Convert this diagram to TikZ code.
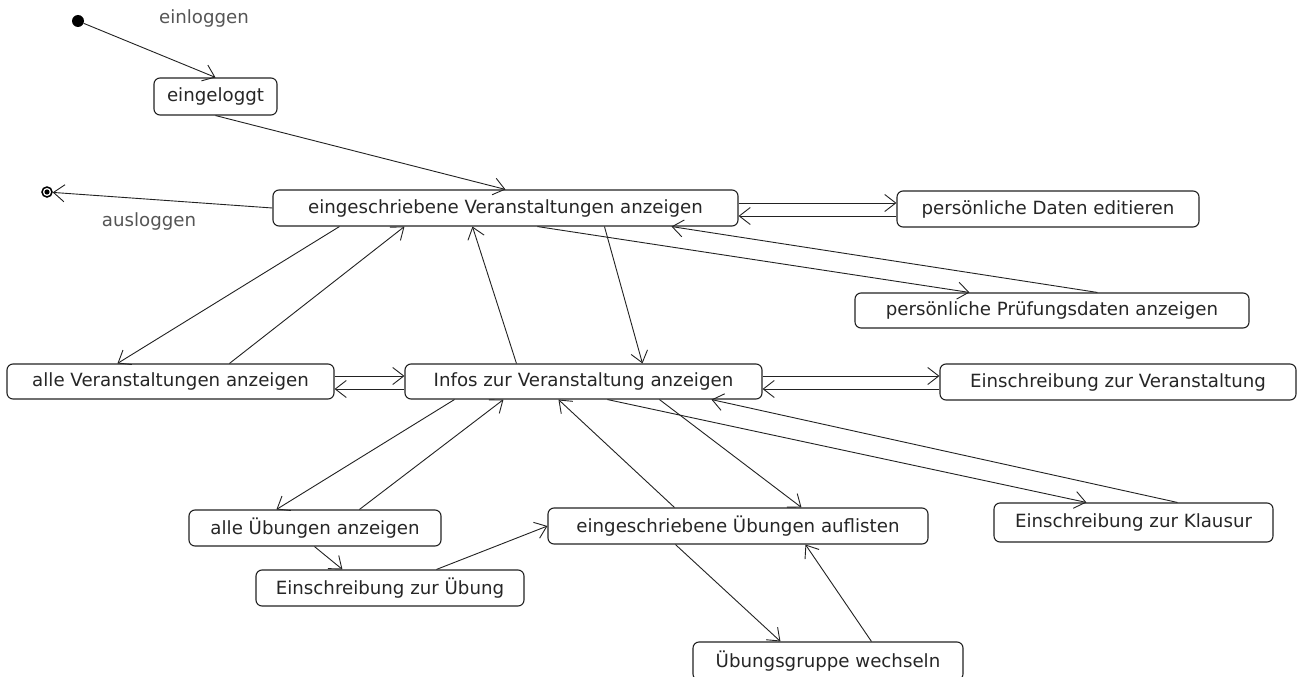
\documentclass[tikz,border=0pt]{standalone}
\usepackage{fontspec}
\setmainfont{DejaVu Sans}
\usetikzlibrary{arrows.meta}
\definecolor{edge}{HTML}{222222}
\definecolor{lbl}{HTML}{555555}
\tikzset{
  state/.style={draw=edge, line width=1.1pt, rounded corners=6pt, fill=white,
    inner sep=0pt, font=\fontsize{18.2}{21}\selectfont, text=black!85},
  flow/.style={draw=edge, line width=0.9pt,
    -{Straight Barb[length=11pt,width=17pt,line width=0.9pt]}},
  guard/.style={font=\fontsize{18.2}{21}\selectfont, text=lbl},
}
\begin{document}
\begin{tikzpicture}[x=1pt, y=-1pt]
\useasboundingbox[fill=white] (0,0) rectangle (1298,677);

% initial and final pseudo-states
\node[circle, fill=black, minimum size=12pt, inner sep=0pt] (init) at (78,21) {};
\node[circle, draw=black, line width=1.5pt, minimum size=10pt, inner sep=0pt] (fin) at (47,192) {};
\fill (fin.center) circle (2.6pt);

% states
\node[state, minimum width=123pt, minimum height=37pt] (login) at (215.5,96.5) {eingeloggt};
\node[state, minimum width=465pt, minimum height=36pt] (eva) at (505.5,208) {eingeschriebene Veranstaltungen anzeigen};
\node[state, minimum width=302pt, minimum height=36pt] (pde) at (1048,209) {persönliche Daten editieren};
\node[state, minimum width=394pt, minimum height=35pt] (ppa) at (1052,310.5) {persönliche Prüfungsdaten anzeigen};
\node[state, minimum width=327pt, minimum height=35pt] (ava) at (170.5,381.5) {alle Veranstaltungen anzeigen};
\node[state, minimum width=357pt, minimum height=35pt] (iva) at (583.5,381.5) {Infos zur Veranstaltung anzeigen};
\node[state, minimum width=356pt, minimum height=36pt] (ezv) at (1118,382) {Einschreibung zur Veranstaltung};
\node[state, minimum width=252pt, minimum height=36pt] (aua) at (315,528) {alle Übungen anzeigen};
\node[state, minimum width=380pt, minimum height=36pt] (eua) at (738,526) {eingeschriebene Übungen auflisten};
\node[state, minimum width=268pt, minimum height=36pt] (ezu) at (390,588) {Einschreibung zur Übung};
\node[state, minimum width=279pt, minimum height=39pt] (ezk) at (1133.5,522.5) {Einschreibung zur Klausur};
\node[state, minimum width=270pt, minimum height=38pt] (ugw) at (828,661) {Übungsgruppe wechseln};

% guard labels
\node[guard] (lin) at (204,18) {einloggen};
\node[guard] (lout) at (149,221) {ausloggen};

% transitions
\draw[flow] (init) -- (login.north);
\draw[flow] (login.south) -- (eva.north);
\draw[flow] (eva.west) -- (fin);

\draw[flow] ([yshift=5pt]eva.east) -- ([yshift=5pt]eva.east -| pde.west);
\draw[flow] ([yshift=-7pt]pde.west) -- ([yshift=-7pt]pde.west -| eva.east);

\draw[flow] ([xshift=265pt]eva.south west) -- ([xshift=115pt]ppa.north west);
\draw[flow] ([xshift=243pt]ppa.north west) -- ([xshift=399pt]eva.south west);

\draw[flow] ([xshift=67pt]eva.south west) -- ([xshift=111pt]ava.north west);
\draw[flow] ([xshift=223pt]ava.north west) -- ([xshift=132pt]eva.south west);

\draw[flow] ([xshift=112pt]iva.north west) -- ([xshift=200pt]eva.south west);
\draw[flow] ([xshift=332pt]eva.south west) -- ([xshift=238pt]iva.north west);

\draw[flow] ([yshift=5.5pt]ava.east) -- ([yshift=5.5pt]ava.east -| iva.west);
\draw[flow] ([yshift=-7.5pt]iva.west) -- ([yshift=-7.5pt]iva.west -| ava.east);

\draw[flow] ([yshift=5.5pt]iva.east) -- ([yshift=5.5pt]iva.east -| ezv.west);
\draw[flow] ([yshift=-7.5pt]iva.east -| ezv.west) -- ([yshift=-7.5pt]iva.east);

\draw[flow] ([xshift=50pt]iva.south west) -- ([xshift=88pt]aua.north west);
\draw[flow] ([xshift=171pt]aua.north west) -- ([xshift=99pt]iva.south west);

\draw[flow] ([xshift=203pt]iva.south west) -- ([xshift=93pt]ezk.north west);
\draw[flow] ([xshift=184pt]ezk.north west) -- ([xshift=307pt]iva.south west);

\draw[flow] ([xshift=127pt]eua.north west) -- ([xshift=154pt]iva.south west);
\draw[flow] ([xshift=255pt]iva.south west) -- ([xshift=254pt]eua.north west);

\draw[flow] ([xshift=126pt]aua.south west) -- ([xshift=87pt]ezu.north west);
\draw[flow] ([xshift=181pt]ezu.north west) -- (eua.west);

\draw[flow] ([xshift=128pt]eua.south west) -- ([xshift=88pt]ugw.north west);
\draw[flow] ([xshift=179pt]ugw.north west) -- ([xshift=258pt]eua.south west);
\end{tikzpicture}
\end{document}
